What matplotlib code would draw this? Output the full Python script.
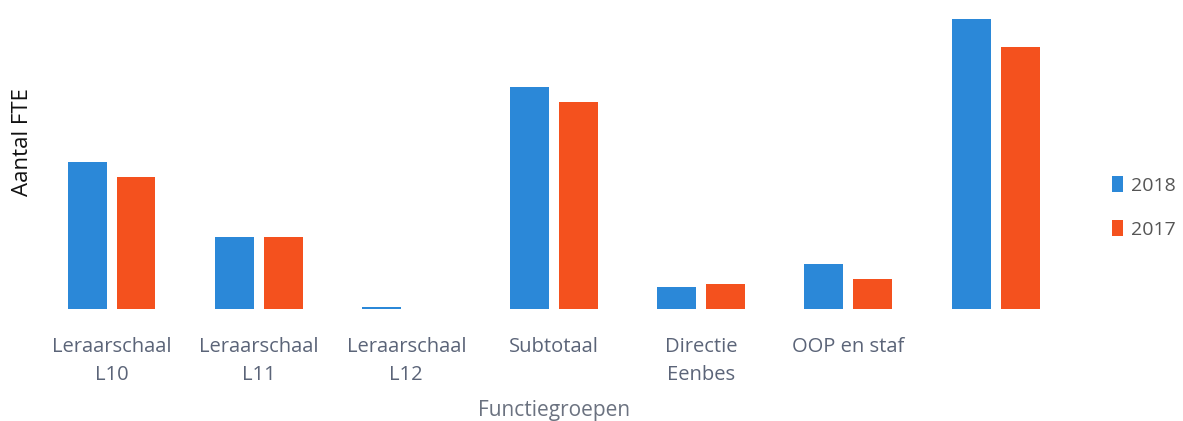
import numpy as np
import matplotlib
matplotlib.use('Agg')
import matplotlib.pyplot as plt

categories = ['Leraarschaal\nL10', 'Leraarschaal\nL11', 'Leraarschaal\nL12',
              'Subtotaal', 'Directie\nEenbes', 'OOP en staf', '']
fte_2018 = [147, 72, 2.5, 222, 22, 45, 290]
fte_2017 = [132, 72, 0, 207, 25, 30, 262]

BLUE = '#2b88d8'
ORANGE = '#f4511e'
TEXT = '#5b6478'

plt.rcParams['font.family'] = ['Open Sans', 'DejaVu Sans']

fig = plt.figure(figsize=(11.83, 4.21), dpi=100)
ax = fig.add_axes([0.032, 0.266, 0.872, 0.713])

x = np.arange(len(categories))
w = 0.264
off = 0.166
ax.bar(x - off, fte_2018, w, color=BLUE, label='2018')
ax.bar(x + off, fte_2017, w, color=ORANGE, label='2017')

ax.set_xlim(-0.5, len(categories) - 0.5)
ax.set_ylim(0, 300)
ax.set_xticks(x)
ax.set_xticklabels(categories, fontsize=14.5, color=TEXT, linespacing=1.55)
ax.tick_params(axis='x', length=0, pad=20)
ax.set_yticks([])
for s in ax.spines.values():
    s.set_visible(False)

ax.set_ylabel('Aantal FTE', fontsize=16, color='#111111')
ax.yaxis.set_label_coords(-0.005, 0.555)
ax.set_xlabel('Functiegroepen', fontsize=15, color='#6b7280', labelpad=11)

ax.legend(loc='center left', bbox_to_anchor=(0.925, 0.507), bbox_transform=fig.transFigure,
          frameon=False, fontsize=14, labelcolor='#555555',
          handlelength=0.6, handleheight=0.9, handletextpad=0.4, labelspacing=1.3)

fig.savefig('out.png', dpi=100, facecolor='white')
